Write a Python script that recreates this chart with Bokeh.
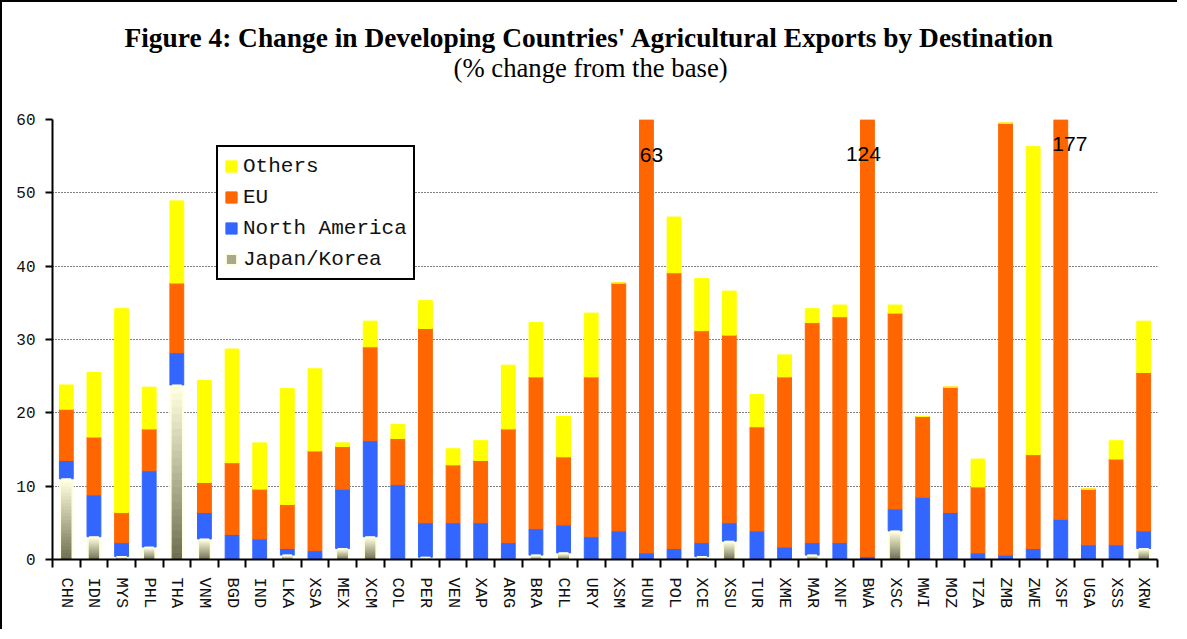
import numpy as np
from bokeh.plotting import figure
from bokeh.models import (ColumnDataSource, Range1d, FixedTicker, Legend, LegendItem, Title)
from bokeh.core.properties import value
from bokeh.embed import file_html
from bokeh.resources import INLINE

# ---------------- data ----------------
countries = ["CHN", "IDN", "MYS", "PHL", "THA", "VNM", "BGD", "IND", "LKA", "XSA",
             "MEX", "XCM", "COL", "PER", "VEN", "XAP", "ARG", "BRA", "CHL", "URY",
             "XSM", "HUN", "POL", "XCE", "XSU", "TUR", "XME", "MAR", "XNF", "BWA",
             "XSC", "MWI", "MOZ", "TZA", "ZMB", "ZWE", "XSF", "UGA", "XSS", "XRW"]

japan_korea = [11.0, 3.1, 0.4, 1.7, 23.8, 2.8, 0.0, 0.0, 0.6, 0.0,
               1.5, 3.1, 0.0, 0.3, 0.0, 0.0, 0.0, 0.6, 0.9, 0.0,
               0.0, 0.0, 0.0, 0.4, 2.5, 0.0, 0.0, 0.6, 0.0, 0.0,
               3.9, 0.0, 0.0, 0.0, 0.0, 0.0, 0.0, 0.0, 0.0, 1.5]

north_america = [2.5, 5.7, 1.9, 10.4, 4.4, 3.6, 3.4, 2.8, 0.9, 1.2,
                 8.1, 13.1, 10.2, 4.7, 5.0, 5.0, 2.3, 3.6, 3.8, 3.1,
                 3.9, 0.9, 1.5, 1.9, 2.5, 3.9, 1.7, 1.7, 2.3, 0.4,
                 3.0, 8.5, 6.4, 0.9, 0.6, 1.5, 5.5, 2.0, 2.0, 2.4]

eu = [7.0, 7.9, 4.1, 5.7, 9.5, 4.1, 9.8, 6.8, 6.0, 13.6,
      5.8, 12.8, 6.3, 26.5, 7.9, 8.5, 15.5, 20.7, 9.3, 21.8,
      33.8, 62.1, 37.6, 28.9, 25.6, 14.2, 23.2, 30.0, 30.8, 123.6,
      26.7, 11.0, 17.1, 9.0, 58.9, 12.8, 171.5, 7.6, 11.7, 21.6]

others = [3.3, 8.8, 27.8, 5.7, 11.2, 13.9, 15.5, 6.3, 15.8, 11.2,
          0.5, 3.5, 1.9, 3.8, 2.2, 2.7, 8.7, 7.4, 5.5, 8.7,
          0.0, 0.0, 7.6, 7.1, 6.0, 4.4, 3.0, 1.9, 1.6, 0.0,
          1.1, 0.0, 0.0, 3.8, 0.0, 42.0, 0.0, 0.0, 2.5, 7.0]

series_names = ["Others", "EU", "North America", "Japan/Korea"]

# off-scale bars annotated with their totals
big_countries = ["HUN", "BWA", "XSF"]
big_totals = [63, 124, 177]

y_ticks = [0, 10, 20, 30, 40, 50, 60]
title_text = "Figure 4: Change in Developing Countries' Agricultural Exports by Destination"
subtitle_text = "(% change from the base)"

# ---------------- styles ----------------
C_OTH = "#FFFF00"
C_EU = "#FF6600"
C_NA = "#3366FF"
C_JK_LIGHT = (255, 255, 224)
C_JK_DARK = (112, 112, 84)
MONO = "Liberation Mono"
TXT = "#111111"

n = len(countries)
xs = list(range(n))

src = ColumnDataSource(dict(x=xs, country=countries, jk=japan_korea,
                            na=north_america, eu=eu, oth=others))

p = figure(width=1177, height=629, x_range=Range1d(-0.5, n - 0.5), y_range=Range1d(0, 60),
           output_backend="svg", toolbar_location=None, title=None,
           min_border_left=50, min_border_right=22, min_border_top=117, min_border_bottom=72)
p.styles = {"border-left": "2px solid black", "border-top": "2px solid black"}
p.outline_line_color = None
p.background_fill_color = "white"
p.border_fill_color = "white"

light_hex = "#%02X%02X%02X" % C_JK_LIGHT
rs = p.vbar_stack(["jk", "na", "eu", "oth"], x="x", width=0.5, source=src,
                  color=[light_hex, C_NA, C_EU, C_OTH])

# gradient for Japan/Korea segments
N = 24
gx, gb, gt, gc = [], [], [], []
for i, h in enumerate(japan_korea):
    if h <= 0:
        continue
    for k in range(N):
        t = k / (N - 1)  # 0 bottom -> 1 top
        col = tuple(int(round(C_JK_DARK[j] + (C_JK_LIGHT[j] - C_JK_DARK[j]) * t)) for j in range(3))
        gx.append(xs[i]); gb.append(h * k / N); gt.append(h * (k + 1) / N)
        gc.append("#%02X%02X%02X" % col)
p.vbar(x=gx, bottom=gb, top=gt, width=0.34, fill_color=gc, line_color=gc)

# labels for off-scale bars
label_y = [55.2, 55.3, 56.7]
label_dx = [5, -4, 9]
p.text(x=[countries.index(c) for c in big_countries], y=label_y,
       text=[str(v) for v in big_totals], x_offset=label_dx,
       text_align="center", text_baseline="middle",
       text_font=value("Liberation Sans"), text_font_size="21px", text_color="black")

# legend proxy for the Japan/Korea swatch (not drawn)
jk_proxy = p.vbar(x="x", top="jk", width=0.5, source=src, fill_color="#A9A98A",
                  line_color=light_hex, line_width=2, visible=False)
items = [LegendItem(label=series_names[0], renderers=[rs[3]]),
         LegendItem(label=series_names[1], renderers=[rs[2]]),
         LegendItem(label=series_names[2], renderers=[rs[1]]),
         LegendItem(label=series_names[3], renderers=[jk_proxy])]
legend = Legend(items=items, location=(164, 279), orientation="vertical",
                border_line_color="black", border_line_width=2, border_line_alpha=1.0,
                background_fill_color="white", background_fill_alpha=1.0,
                label_text_font=MONO, label_text_font_size="21px", label_text_color=TXT,
                glyph_width=14, glyph_height=14, label_standoff=5,
                padding=6, spacing=5, label_height=26, margin=0, click_policy="none")
p.add_layout(legend)

# axes
xa = p.xaxis[0]
xa.ticker = FixedTicker(ticks=xs, minor_ticks=[x - 0.5 for x in range(n + 1)])
xa.major_label_overrides = {i: c for i, c in enumerate(countries)}
xa.major_label_orientation = "vertical"
xa.major_label_text_font = MONO
xa.major_label_text_font_size = "17px"
xa.major_label_text_color = TXT
xa.major_tick_out = 0
xa.major_tick_in = 0
xa.minor_tick_out = 8
xa.minor_tick_in = 0
xa.minor_tick_line_width = 2
xa.minor_tick_line_color = "black"
xa.axis_line_width = 2
xa.axis_line_color = "black"
xa.major_label_standoff = 10

ya = p.yaxis[0]
ya.ticker = FixedTicker(ticks=y_ticks)
ya.major_tick_out = 7
ya.major_tick_in = 0
ya.major_tick_line_width = 2
ya.major_tick_line_color = "black"
ya.minor_tick_line_color = None
ya.axis_line_width = 2
ya.axis_line_color = "black"
ya.major_label_text_font = MONO
ya.major_label_text_font_size = "16px"
ya.major_label_text_color = TXT
ya.major_label_standoff = 10

p.xgrid.visible = False
p.ygrid.ticker = FixedTicker(ticks=[10, 20, 30, 40, 50])
p.ygrid.grid_line_color = "black"
p.ygrid.grid_line_dash = "1 2"
p.ygrid.grid_line_width = 1

# titles (stacked upward from the plot frame)
p.add_layout(Title(text=subtitle_text, text_font="Liberation Serif", text_font_size="26.7px",
                   text_font_style="normal", text_color="black", align="left", offset=401,
                   standoff=74), "above")
p.add_layout(Title(text=title_text, text_font="Liberation Serif", text_font_size="27.4px",
                   text_font_style="bold", text_color="black", align="left", offset=72,
                   standoff=-78), "above")

open("out.html", "w").write(file_html(p, INLINE))
